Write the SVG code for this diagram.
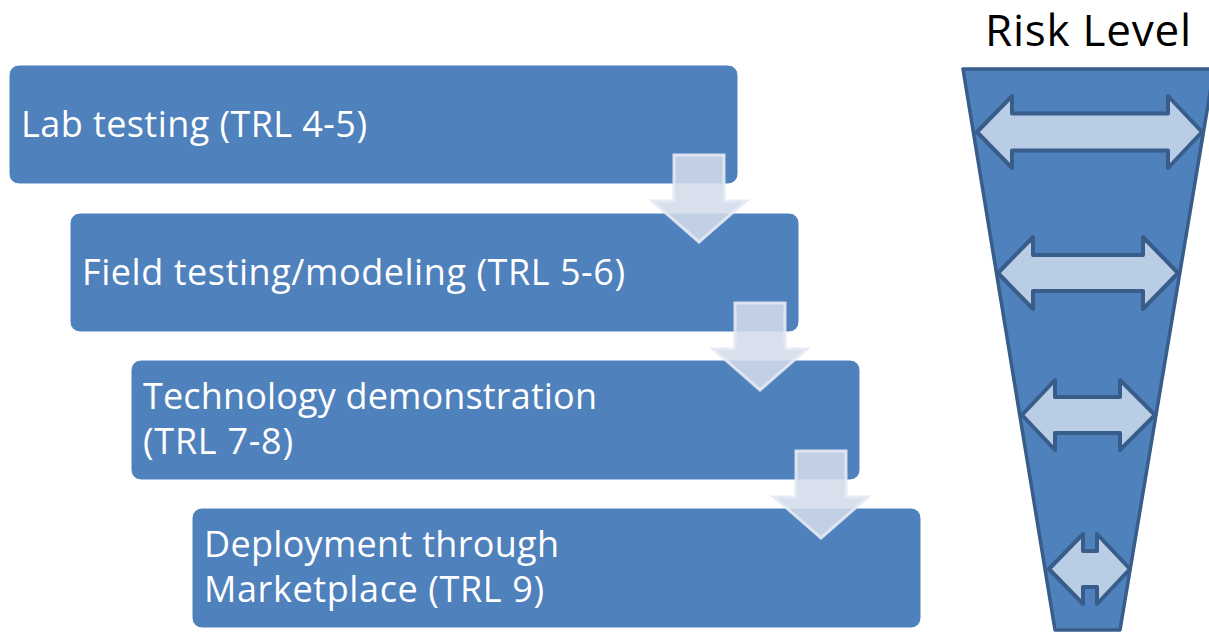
<svg xmlns="http://www.w3.org/2000/svg" width="1209" height="633" viewBox="0 0 1209 633">
<defs>
<style>
.box{fill:#4f81bd;stroke:#ffffff;stroke-width:1}
.lbl{font-family:"Open Sans","Liberation Sans",sans-serif;font-size:36px;fill:#ffffff}
.down{fill:#d3dbeb;fill-opacity:0.88;stroke:#e4e9f3;stroke-opacity:0.9;stroke-width:3;stroke-linejoin:miter}
.funnel{fill:#4f81bd;stroke:#385d8a;stroke-width:3.5;stroke-linejoin:round}
.dbl{fill:#b9cde5;stroke:#385d8a;stroke-width:4;stroke-linejoin:round}
.title{font-family:"Open Sans","Liberation Sans",sans-serif;font-size:44px;fill:#000000}
</style>
</defs>
<rect width="1209" height="633" fill="#ffffff"/>
<g id="node-lab">
<rect class="box" x="9" y="65" width="729" height="119" rx="10"/>
<text class="lbl" x="21" y="137" textLength="346" lengthAdjust="spacing">Lab testing (TRL 4-5)</text>
</g>
<g id="node-field">
<rect class="box" x="70" y="213" width="729" height="119" rx="10"/>
<text class="lbl" x="82" y="285" textLength="543" lengthAdjust="spacing">Field testing/modeling (TRL 5-6)</text>
</g>
<g id="node-demo">
<rect class="box" x="131" y="360" width="729" height="120" rx="10"/>
<text class="lbl" x="143" y="409" textLength="454" lengthAdjust="spacing">Technology demonstration</text>
<text class="lbl" x="143" y="454" textLength="150" lengthAdjust="spacing">(TRL 7-8)</text>
</g>
<g id="node-deploy">
<rect class="box" x="192" y="508" width="729" height="120" rx="10"/>
<text class="lbl" x="204" y="557" textLength="355" lengthAdjust="spacing">Deployment through</text>
<text class="lbl" x="204" y="602" textLength="340" lengthAdjust="spacing">Marketplace (TRL 9)</text>
</g>
<g id="connectors">
<polygon class="down" points="674,155 724,155 724,201 746,201 699,242 652,201 674,201"/>
<polygon class="down" points="735,303 785,303 785,349 807,349 760,390 713,349 735,349"/>
<polygon class="down" points="796,451 846,451 846,497 868,497 821,538 774,497 796,497"/>
</g>
<g id="risk-level">
<text class="title" x="985" y="46" textLength="206" lengthAdjust="spacing">Risk Level</text>
<polygon class="funnel" points="963,69 1214,69 1120,630 1055,630"/>
<polygon class="dbl" points="977,132 1012,96 1012,113.5 1168,113.5 1168,96 1202,132 1168,168 1168,150.5 1012,150.5 1012,168"/>
<polygon class="dbl" points="998,273 1033,237 1033,255 1143,255 1143,237 1178,273 1143,309 1143,291 1033,291 1033,309"/>
<polygon class="dbl" points="1022,415 1055,380 1055,397 1120,397 1120,380 1155,415 1120,450 1120,433 1055,433 1055,450"/>
<polygon class="dbl" points="1049,569 1083,534 1083,551 1097,551 1097,534 1130,569 1097,604 1097,587 1083,587 1083,604"/>
</g>
</svg>
